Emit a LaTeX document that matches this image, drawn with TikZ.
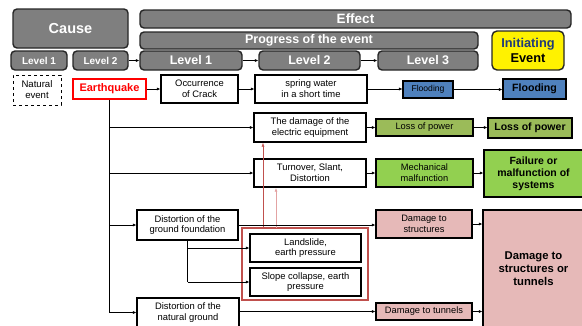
\documentclass[tikz,border=0pt]{standalone}
\usepackage{fontspec}
\setmainfont{Liberation Sans}
\usetikzlibrary{arrows.meta,calc}
\definecolor{hdrgray}{HTML}{7F7F7F}
\definecolor{hdrline}{HTML}{262626}
\definecolor{floodblue}{HTML}{4F81BD}
\definecolor{olivegreen}{HTML}{9BBB59}
\definecolor{brightgreen}{HTML}{92D050}
\definecolor{pinkfill}{HTML}{E6B9B8}
\definecolor{groupred}{HTML}{C0504D}
\definecolor{lightred}{HTML}{E3A3A3}
\definecolor{initblue}{HTML}{1F3A7A}
\newcommand\bx[6]{\node[#6, minimum width={(#4-#2)*1pt}, minimum height={(#5-#3)*1pt}] (#1) at ({(#2+#4)/2},{(#3+#5)/2})}
\tikzset{
  fs/.style={font={\pgfmathsetmacro\bsk{#1*1.15}\fontsize{#1}{\bsk}\selectfont}},
  fsb/.style={font={\pgfmathsetmacro\bsk{#1*1.15}\fontsize{#1}{\bsk}\selectfont\bfseries}},
  hdr/.style={draw=hdrline, fill=hdrgray, line width=1.4pt, rounded corners=4pt, text=white, inner sep=0pt, align=center},
  plain/.style={draw=black, line width=1.3pt, fill=white, inner sep=1pt, align=center, fs=9.4},
  colbox/.style={draw=black, line width=1.3pt, inner sep=1pt, align=center},
  arr/.style={-{Latex[length=3.5pt,width=3pt]}, line width=0.5pt, draw=black},
  ln/.style={line width=0.5pt, draw=black},
}
\begin{document}
\begin{tikzpicture}[x=1pt,y=-1pt]
\useasboundingbox (0,0) rectangle (582,325);
% headers
\bx{cause}{13}{9}{128}{48}{hdr, fsb=14.5}{Cause};
\bx{lv1L}{11}{51}{67}{70}{hdr, fsb=10}{Level 1};
\bx{lv2L}{73}{51}{128}{70}{hdr, fsb=10}{Level 2};
\bx{effect}{140}{10}{571}{28}{hdr, fsb=13.5}{Effect};
\bx{progress}{140}{32}{478}{49}{hdr, fsb=12.5}{Progress of the event};
\bx{lv1M}{140}{51}{242}{70}{hdr, fsb=12.5}{Level 1};
\bx{lv2M}{259}{51}{360}{70}{hdr, fsb=12.5}{Level 2};
\bx{lv3M}{378}{51}{478}{70}{hdr, fsb=12.5}{Level 3};
\bx{init}{492}{31}{564}{70}{draw=hdrline, fill=yellow, line width=1.4pt, rounded corners=5pt, inner sep=0pt, align=center, fsb=12.8}{\textcolor{initblue}{Initiating}\\Event};
\draw[arr] (lv2L.east) -- (lv1M.west);
\draw[arr] (lv1M.east) -- (lv2M.west);
\draw[arr] (lv2M.east) -- (lv3M.west);
% cause column
\bx{nat}{13}{75}{61}{105}{draw=black, dashed, line width=0.6pt, align=center, inner sep=0pt, fs=9.6}{Natural\\event};
\bx{eq}{73}{79}{146}{99}{draw=red, line width=1.3pt, fill=white, text=red, fsb=11}{Earthquake};
% row 1
\bx{occ}{161}{75}{238}{103}{plain}{Occurrence\\of Crack};
\bx{spring}{255}{75}{367}{103}{plain}{spring water\\in a short time};
\bx{flood1}{403}{81}{453}{98}{colbox, fill=floodblue, fs=8.6, line width=1.1pt}{Flooding};
\bx{flood2}{503}{79}{566}{99}{colbox, fill=floodblue, fsb=10.6}{Flooding};
\draw[arr] (eq.east) -- (occ.west);
\draw[arr] (occ.east) -- (spring.west);
\draw[arr] (spring.east) -- (spring.east -| flood1.west);
\draw[arr] (flood1.east) -- (flood1.east -| flood2.west);
% row 2
\bx{elec}{254}{113}{366}{142}{plain}{The damage of the\\electric equipment};
\bx{lop1}{376}{119}{473}{136}{colbox, fill=olivegreen, fs=9.3}{Loss of power};
\bx{lop2}{488}{118}{572}{138}{colbox, fill=olivegreen, fsb=10.5}{Loss of power};
\draw[arr] (elec.east) -- (elec.east -| lop1.west);
\draw[arr] (lop1.east) -- (lop1.east -| lop2.west);
% row 3
\bx{turn}{254}{159}{366}{187}{plain}{Turnover, Slant,\\Distortion};
\bx{mech}{376}{159}{473}{187}{colbox, fill=brightgreen, fs=9.3}{Mechanical\\malfunction};
\bx{fail}{484}{150}{583}{197}{colbox, fill=brightgreen, fsb=10.5}{Failure or\\malfunction of\\systems};
\draw[arr] (turn.east) -- (turn.east -| mech.west);
\draw[arr] (mech.east) -- (mech.east -| fail.west);
% ground rows
\bx{dfound}{137}{210}{238}{240}{plain}{Distortion of the\\ground foundation};
\bx{dnat}{137}{298}{239}{327}{plain}{Distortion of the\\natural ground};
\bx{group}{242}{228}{368}{300}{draw=groupred, line width=1.5pt}{};
\bx{land}{250}{234}{361}{262}{plain}{Landslide,\\earth pressure};
\bx{slope}{250}{268}{361}{296}{plain}{Slope collapse, earth\\pressure};
\bx{dstruct}{376}{210}{472}{238}{colbox, fill=pinkfill, fs=9.3}{Damage to\\structures};
\bx{dtun}{376}{303}{472}{320}{colbox, fill=pinkfill, fs=9.3}{Damage to tunnels};
\bx{big}{483}{210}{584}{328}{colbox, fill=pinkfill, fsb=11.3}{Damage to\\structures or\\tunnels};
% trunk
\draw[ln] (eq.south) -- (eq.south |- dnat.west);
\draw[arr] (eq.south |- elec.west) -- (elec.west);
\draw[arr] (eq.south |- turn.west) -- (turn.west);
\draw[arr] (eq.south |- dfound.west) -- (dfound.west);
\draw[arr] (eq.south |- dnat.west) -- (dnat.west);
% foundation branches
\draw[ln] (dfound.south) -- (dfound.south |- slope.west);
\draw[arr] (dfound.south |- land.west) -- (land.west);
\draw[arr] (dfound.south |- slope.west) -- (slope.west);
% red arrows
\coordinate (r1) at (263,228);
\coordinate (r2) at (276,228);
\draw[-{Latex[length=4pt,width=3pt]}, draw=groupred, fill=groupred, line width=0.6pt] (r1) -- (r1 |- elec.south);
\draw[-{Latex[length=4pt,width=3pt]}, draw=lightred, fill=lightred, line width=0.9pt] (r2) -- (r2 |- turn.south);
% horizontal lines to damage boxes
\draw[arr] (dfound.east) -- (dfound.east -| dstruct.west);
\draw[arr] (dnat.east |- dtun.west) -- (dtun.west);
\draw[arr] (dstruct.east) -- (dstruct.east -| big.west);
\draw[arr] (dtun.east) -- (dtun.east -| big.west);
\end{tikzpicture}
\end{document}
